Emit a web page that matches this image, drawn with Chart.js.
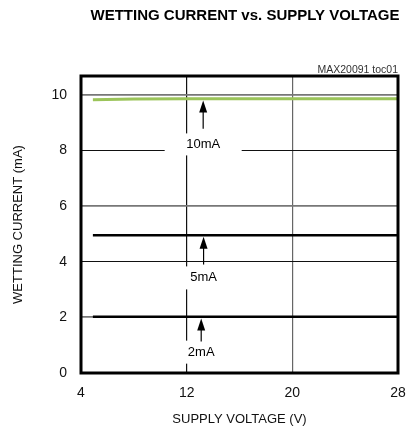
<!DOCTYPE html>
<html>
<head>
<meta charset="utf-8">
<script src="https://cdn.jsdelivr.net/npm/chart.js@4.4.1/dist/chart.umd.min.js"></script>
<style>
  html, body { margin: 0; padding: 0; background: #fff; }
  canvas { display: block; }
</style>
</head>
<body>
<canvas id="chart" width="406" height="431"></canvas>
<script>
// Supply voltage (V)
const voltage = [4.9, 8, 12, 16, 20, 24, 28];
// Wetting current for each setting (mA)
const current10mA = [9.83, 9.85, 9.86, 9.86, 9.86, 9.86, 9.86];
const current5mA = [4.95, 4.95, 4.95, 4.95, 4.95, 4.95, 4.95];
const current2mA = [2.02, 2.02, 2.02, 2.02, 2.02, 2.02, 2.02];

const xTicks = [4, 12, 20, 28];
const yTicks = [0, 2, 4, 6, 8, 10];

// Callouts (data units)
const calloutText = ['10mA', '5mA', '2mA'];
const calloutX = [13.25, 13.28, 13.1];
const calloutLabelY = [8.22, 3.42, 0.75];
const calloutTipY = [9.8, 4.9, 1.96];
const calloutTailY = [8.78, 3.9, 1.13];

const FONT = '"Liberation Sans", Arial, sans-serif';

function points(ys) {
  return voltage.map((v, i) => ({ x: v, y: ys[i] }));
}

// white boxes behind the callout labels hide the grid
const calloutBoxes = [[77, 22], [40, 23], [40, 23]];

const calloutPlugin = {
  id: 'callouts',
  beforeDatasetsDraw(chart) {
    const ctx = chart.ctx;
    const xs = chart.scales.x, ys = chart.scales.y;
    ctx.save();
    ctx.fillStyle = '#fff';
    calloutText.forEach((t, i) => {
      const cx = xs.getPixelForValue(calloutX[i]);
      const cy = ys.getPixelForValue(calloutLabelY[i]);
      const [w, h] = calloutBoxes[i];
      ctx.fillRect(cx - w / 2, cy - h / 2, w, h);
    });
    ctx.restore();
  },
  afterDatasetsDraw(chart) {
    const ctx = chart.ctx;
    const xs = chart.scales.x, ys = chart.scales.y;
    ctx.save();
    ctx.fillStyle = '#000';
    ctx.strokeStyle = '#000';
    ctx.lineWidth = 1.2;
    ctx.font = '13px ' + FONT;
    ctx.textAlign = 'center';
    ctx.textBaseline = 'middle';
    calloutText.forEach((t, i) => {
      const x = xs.getPixelForValue(calloutX[i]);
      const tip = ys.getPixelForValue(calloutTipY[i]);
      const tail = ys.getPixelForValue(calloutTailY[i]);
      ctx.beginPath();
      ctx.moveTo(x, tail);
      ctx.lineTo(x, tip + 8);
      ctx.stroke();
      ctx.beginPath();
      ctx.moveTo(x, tip);
      ctx.lineTo(x - 4, tip + 12);
      ctx.lineTo(x + 4, tip + 12);
      ctx.closePath();
      ctx.fill();
      ctx.fillText(t, x, ys.getPixelForValue(calloutLabelY[i]));
    });
    ctx.restore();
  },
  afterDraw(chart) {
    const ctx = chart.ctx;
    const a = chart.chartArea;
    ctx.save();
    ctx.strokeStyle = '#000';
    ctx.lineWidth = 3;
    ctx.strokeRect(a.left, a.top, a.right - a.left, a.bottom - a.top);
    ctx.fillStyle = '#000';
    ctx.font = 'bold 15px ' + FONT;
    ctx.textAlign = 'center';
    ctx.textBaseline = 'middle';
    ctx.fillText('WETTING CURRENT vs. SUPPLY VOLTAGE', 245, 16);
    ctx.font = '10.5px ' + FONT;
    ctx.textAlign = 'right';
    ctx.fillStyle = '#333';
    ctx.fillText('MAX20091 toc01', a.right, 70);
    ctx.restore();
  }
};

new Chart(document.getElementById('chart'), {
  type: 'scatter',
  data: {
    datasets: [
      { label: '10mA', data: points(current10mA), showLine: true, borderColor: '#9bc45a', borderWidth: 3, pointRadius: 0 },
      { label: '5mA', data: points(current5mA), showLine: true, borderColor: '#000', borderWidth: 2.5, pointRadius: 0 },
      { label: '2mA', data: points(current2mA), showLine: true, borderColor: '#000', borderWidth: 2.5, pointRadius: 0 }
    ]
  },
  options: {
    responsive: false,
    animation: false,
    layout: { padding: { left: 0, right: 0, top: 76, bottom: 0 } },
    plugins: { legend: { display: false }, tooltip: { enabled: false }, title: { display: false } },
    scales: {
      x: {
        type: 'linear', min: 4, max: 28,
        afterBuildTicks: s => { s.ticks = xTicks.map(v => ({ value: v })); },
        afterFit: s => { s.height = 58; s.paddingRight = 8; s.paddingLeft = 0; },
        grid: { drawTicks: false, color: c => c.tick && c.tick.value === 20 ? '#666' : '#111', lineWidth: 1.2 },
        border: { display: false },
        ticks: { color: '#111', padding: 12, font: { family: FONT, size: 14 } },
        title: { display: true, text: 'SUPPLY VOLTAGE (V)', color: '#111', padding: { top: 0, bottom: 4 }, font: { family: FONT, size: 13 } }
      },
      y: {
        min: 0, max: 10.68,
        afterBuildTicks: s => { s.ticks = yTicks.map(v => ({ value: v })); },
        afterFit: s => { s.width = 81; },
        grid: { drawTicks: false, color: c => (c.tick && (c.tick.value === 8 || c.tick.value === 4)) ? '#111' : '#777', lineWidth: c => (c.tick && (c.tick.value === 8 || c.tick.value === 4)) ? 1 : 1.8 },
        border: { display: false },
        ticks: { color: '#111', padding: 14, font: { family: FONT, size: 14 } },
        title: { display: true, text: 'WETTING CURRENT (mA)', color: '#111', padding: { top: 11, bottom: 0 }, font: { family: FONT, size: 13 } }
      }
    }
  },
  plugins: [calloutPlugin]
});
</script>
</body>
</html>
